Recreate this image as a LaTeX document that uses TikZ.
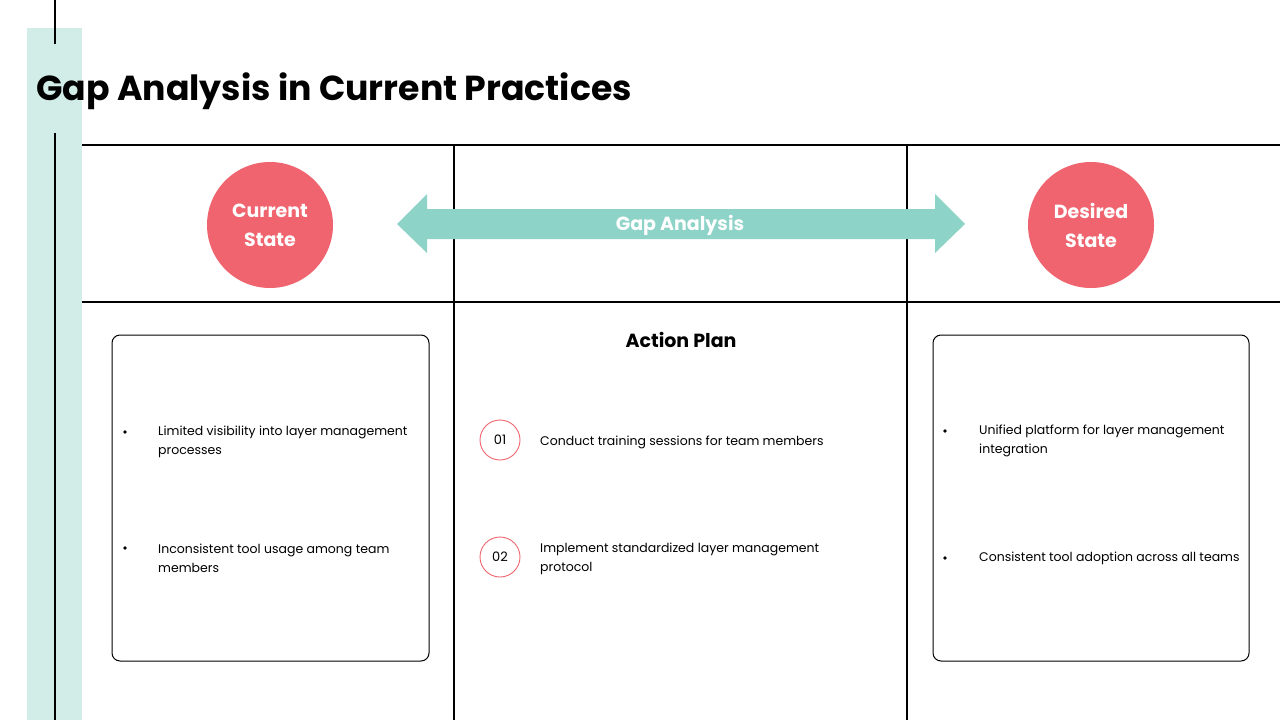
\documentclass[tikz,border=0pt]{standalone}
\usepackage{fontspec}
\setmainfont{Poppins}
\definecolor{strip}{HTML}{D2ECE8}
\definecolor{coral}{HTML}{EF646E}
\definecolor{teal}{HTML}{8ED3C7}
\tikzset{
  grid/.style={line width=1.1pt, black},
  statecirc/.style={circle, fill=coral, minimum size=126pt, inner sep=0pt, text=white, align=center, font=\fontsize{19}{29}\selectfont\bfseries},
  card/.style={draw=black, line width=1pt, rounded corners=8pt},
  bulletdot/.style={circle, fill=black, inner sep=0pt, minimum size=3.6pt},
  bodytext/.style={anchor=west, align=left, inner sep=0pt, font=\fontsize{12.5}{19}\selectfont},
  numcirc/.style={circle, draw=coral, line width=0.9pt, minimum size=40pt, inner sep=0pt, font=\fontsize{13}{15}\selectfont},
}
\begin{document}
\begin{tikzpicture}[x=1pt,y=-1pt]
\useasboundingbox (0,0) rectangle (1280,720);
\fill[white] (0,0) rectangle (1280,720);
% strip
\fill[strip] (27,28) rectangle (82,720);
\draw[grid] (55,0) -- (55,44);
\draw[grid] (55,133) -- (55,720);
% title
\node[anchor=west, inner sep=0pt, font=\fontsize{34.7}{40}\selectfont\bfseries] (title) at (36,91.5) {Gap Analysis in Current Practices};
% grid lines
\draw[grid] (82,145) -- (1280,145);
\draw[grid] (82,302) -- (1280,302);
\draw[grid] (454,145) -- (454,720);
\draw[grid] (907,145) -- (907,720);
% state circles
\node[statecirc] (cur) at (270,225) {Current\\State};
\node[statecirc] (des) at (1091,225) {Desired\\State};
% double arrow
\fill[teal] (397,224) -- (427,194) -- (427,209) -- (935,209) -- (935,194) -- (965,224) -- (935,253) -- (935,239) -- (427,239) -- (427,253) -- cycle;
\node[text=white, font=\fontsize{19}{22}\selectfont\bfseries, inner sep=0pt] (gap) at (680,225) {Gap Analysis};
% cards
\draw[card] (112,335) rectangle (429,661);
\draw[card] (933,335) rectangle (1249,661);
\node[bulletdot] (lb1) at (125,432) {};
\node[bodytext] (lt1) at (158,442) {Limited visibility into layer management\\processes};
\node[bulletdot] (lb2) at (125,548) {};
\node[bodytext] (lt2) at (158,558) {Inconsistent tool usage among team\\members};
\node[bulletdot] (rb1) at (945,431) {};
\node[bodytext] (rt1) at (979,441) {Unified platform for layer management\\integration};
\node[bulletdot] (rb2) at (945,558) {};
\node[bodytext] (rt2) at (979,558.5) {Consistent tool adoption across all teams};
% action plan
\node[font=\fontsize{19}{22}\selectfont\bfseries, inner sep=0pt] (ap) at (681,340) {Action Plan};
\node[numcirc] (n1) at (500,440) {01};
\node[bodytext] (at1) at (540,442) {Conduct training sessions for team members};
\node[numcirc] (n2) at (500,557) {02};
\node[bodytext] (at2) at (540,559) {Implement standardized layer management\\protocol};
\end{tikzpicture}
\end{document}
